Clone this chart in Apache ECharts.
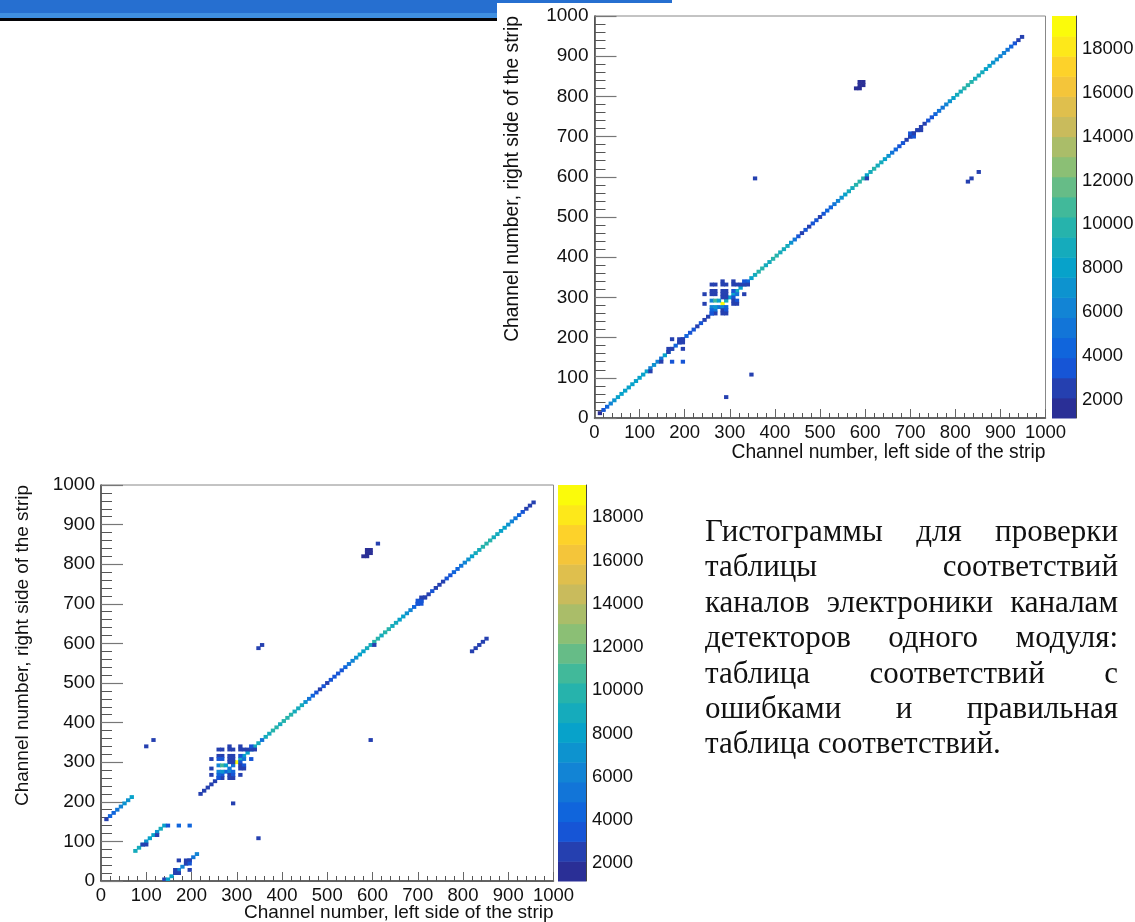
<!DOCTYPE html>
<html><head><meta charset="utf-8">
<style>html,body{margin:0;padding:0;background:#fff}#c{width:1135px;height:922px}</style>
<script src="https://cdn.jsdelivr.net/npm/echarts@6/dist/echarts.min.js"></script>
</head><body><div id="c"></div>
<script>
// ---------- data ----------
const binWidth = 8;
const colorTicks = [2000,4000,6000,8000,10000,12000,14000,16000,18000];
const colorMin = 1180, colorMax = 19490;
const palette = ['#2a2f96','#2540b0','#1655d6','#1065dc','#1275d8','#1284d5','#0d93cf','#07a2ca','#15abbc','#26b3ac','#41b99a','#66bc87','#8bbf75','#aabd69','#c9bb5c','#dfbf4d','#f4c53a','#fdd22a','#fde81a','#fbfb0a'];

const xTitle = 'Channel number, left side of the strip';
const yTitle = 'Channel number, right side of the strip';

// top panel: diagonal cell contents, channels 8, 16, ... 944
const topDiagonalStart = 8;
const topDiagonal = [
 2000,3200,4800,6500,7200,7800,8000,8300,8000,8200,
 8500,8100,8300,7600,6500,7000,6200,5500,7800,7500,
 5000,4500,4000,3800,4200,3600,3300,3000,3500,2800,
 3000,3800,5500,5000,18600,9000,8000,8500,9200,8500,
 9000,4500,8500,9000,9500,9600,9000,9400,9800,9500,
 9200,9400,9000,7000,5000,3500,3000,3400,2800,3200,
 3600,3000,3500,4200,4800,5600,6400,7000,7800,8600,
 9200,9500,9800,9600,8500,9400,9600,9000,8600,8000,
 7000,5200,4000,3500,3200,3000,3400,3000,2600,2800,
 3000,3500,3800,4400,5000,5600,6500,7500,8200,8800,
 9200,9500,9700,9600,9400,9200,8800,8300,7800,7400,
 7000,6500,6000,5400,4600,3800,3000,2400];
const topExtra = [
 [352,592,2500],[344,104,2600],[288,48,2400],[824,584,2300],[832,592,2600],[848,608,2400],
 [584,832,2000],[592,832,2000],[584,824,2000],[592,824,2000],[576,816,2000],[584,816,2000],
 [696,696,3000],[704,696,3400],[696,704,3400],[704,704,2800],[712,712,2400],[720,712,2200],
 [600,592,2800],[120,112,2500],[144,136,2600],[168,136,3200],[192,136,3200],[192,168,3000],
 [160,168,2600],[168,168,2400],[160,160,2500],[168,192,2800],[184,184,2400],[192,184,2600],[184,192,2300],[192,192,2800],
 [240,304,3000],[240,280,3000],[328,304,3000],
 [256,328,2600],[264,328,2600],[280,336,2600],[280,328,2400],[288,328,3000],[304,336,2800],[304,328,2400],[312,328,2800],[320,328,2800],[328,328,2600],[328,336,3600],[336,328,2400],
 [256,312,3000],[264,312,3000],[256,304,2600],[264,304,2800],[280,312,2600],[288,312,2800],[280,304,2600],[288,304,2800],
 [280,296,2400],[288,296,3000],[304,296,3500],[304,312,3800],[312,304,5000],
 [256,288,6500],[264,288,11000],[272,288,8500],[304,288,3000],[312,288,3200],[304,280,3000],[312,280,2800],
 [256,272,6000],[264,272,7000],[280,272,6500],[288,272,4000],
 [256,264,4000],[264,256,3000],[280,264,3000],[288,264,3500],[280,256,2800],[288,256,3000],[256,256,3500]];

// bottom panel: diagonal cell contents, channels 216, 224, ... 952
const bottomDiagonalStart = 216;
const bottomDiagonal = [
 2400,2600,2400,2800,3000,3200,3600,4000,5500,5000,
 18800,9000,8000,8500,9200,8800,9000,5000,8600,9200,
 9500,9700,9200,9600,9800,9500,9300,9400,9000,7400,
 5500,4000,3400,3000,3300,2800,3200,3600,3200,3800,
 4400,5200,6000,6800,7600,8400,9000,9400,9700,9800,
 8800,9500,9700,9300,8800,8300,7800,7200,6000,4800,
 3800,3200,3000,2800,3400,3000,2600,2800,3200,3600,
 4000,4600,5200,6000,7000,8000,8800,9300,9600,9800,
 9600,9400,9000,8400,7800,7000,6200,5200,4200,3400,
 3000,2800,2400];
// wrapped segments in the low channels
const bottomSegments = [
 [8,152,2400],[16,160,4200],[24,168,4800],[32,176,5600],[40,184,6200],[48,192,6800],[56,200,7200],[64,208,7800],
 [72,72,8800],[80,80,8600],[88,88,7800],[96,96,6800],[104,104,8200],[112,112,8000],[120,120,7000],[128,128,8600],[136,136,8400],
 [136,0,2400],[144,0,7800],[152,8,7600],[160,16,7000],[168,24,6600],[176,32,6200],[184,40,5600],[192,48,5000],[200,56,5400],[208,64,5800]];
const bottomExtra = [
 [88,88,2600],[96,88,2400],[120,112,3000],[144,136,3200],[168,136,4000],[192,136,4200],
 [160,16,2800],[168,16,2400],[160,24,2800],[168,48,3000],[184,48,2800],[192,48,2600],[184,40,2800],[192,40,3400],[192,24,3000],
 [608,848,2600],[584,832,2000],[592,832,2000],[584,824,2000],[592,824,2000],[576,816,2000],[584,816,2000],
 [344,584,2300],[352,592,2500],[816,576,2300],[824,584,2500],[832,592,2800],[840,600,2600],[848,608,3000],
 [112,352,2600],[96,336,2400],[592,352,2500],[288,192,2500],[344,104,2600],
 [600,592,2800],[696,696,3400],[704,696,3600],[696,704,3800],[704,704,3400],[704,712,2400],[712,712,2200],
 [240,304,3000],[240,280,3000],[240,264,3000],[328,304,3200],[304,264,3000],
 [256,328,2600],[264,328,2600],[280,336,2600],[280,328,2400],[288,328,3000],[304,336,2800],[304,328,2400],[312,328,2800],[320,328,2800],[328,328,2600],[328,336,3600],[336,328,2400],
 [256,312,3000],[264,312,3000],[256,304,3400],[264,304,3400],[280,312,2600],[288,312,2800],[280,304,2600],[288,304,2800],
 [280,296,2400],[288,296,3000],[304,296,3500],[304,312,3800],[312,304,5000],
 [256,288,6500],[264,288,10500],[272,288,8500],[304,288,3000],[312,288,3200],[304,280,3000],[312,280,2800],
 [256,272,6000],[264,272,7000],[280,272,6500],[288,272,4000],
 [256,264,4000],[264,256,3000],[280,264,3000],[288,264,3500],[280,256,2800],[288,256,3000],[256,256,3500]];

const noteLines = [
 'Гистограммы для проверки',
 'таблицы соответствий',
 'каналов электроники каналам',
 'детекторов одного модуля:',
 'таблица соответствий с',
 'ошибками и правильная',
 'таблица соответствий.'];

// ---------- helpers ----------
function diagonalCells(start, values){
  return values.map((v,i)=>[start+i*binWidth, start+i*binWidth, v]);
}
function colorFor(v){
  const k = Math.floor((v-colorMin)/(colorMax-colorMin)*palette.length);
  return palette[Math.max(0,Math.min(palette.length-1,k))];
}
const cellBleed = 0.35;
function renderCell(params, api){
  const x=api.value(0), y=api.value(1);
  const a=api.coord([x,y]), b=api.coord([x+binWidth,y+binWidth]);
  return {type:'rect',shape:{x:a[0]-cellBleed,y:b[1]-cellBleed,width:b[0]-a[0]+2*cellBleed,height:a[1]-b[1]+2*cellBleed},
          style:{fill:colorFor(api.value(2))}};
}
function renderBand(params, api){
  const a=api.coord([0,api.value(0)]), b=api.coord([1,api.value(1)]);
  return {type:'rect',shape:{x:a[0],y:b[1],width:b[0]-a[0],height:a[1]-b[1]+0.5},
          style:{fill:palette[api.value(2)]}};
}
const bandData = palette.map((c,i)=>{
  const s=(colorMax-colorMin)/palette.length;
  return [colorMin+i*s, colorMin+(i+1)*s, i];
});

const sans='"Liberation Sans", Arial, sans-serif';
const plain = v => String(v);
function xAxisFor(g, size, titleGap){
  return {gridIndex:g,type:'value',min:0,max:1000,interval:100,
    axisLine:{show:true,onZero:false,lineStyle:{color:'#444',width:1.5}},
    axisTick:{show:true,inside:true,length:9,lineStyle:{color:'#666',width:1}},
    minorTick:{show:true,splitNumber:5,length:5,lineStyle:{color:'#555',width:1}},
    splitLine:{show:false},minorSplitLine:{show:false},
    axisLabel:{color:'#111',fontFamily:sans,fontSize:18.5,margin:5,formatter:plain,showMinLabel:true,showMaxLabel:true},
    name:xTitle,nameLocation:'end',nameGap:0,nameMoveOverlap:false,
    nameTextStyle:{color:'#111',fontFamily:sans,fontSize:size,align:'right',verticalAlign:'top',padding:[titleGap,0,0,0]}};
}
function yAxisFor(g, size, titleGap){
  return {gridIndex:g,type:'value',min:0,max:1000,interval:100,
    axisLine:{show:true,onZero:false,lineStyle:{color:'#444',width:1.5}},
    axisTick:{show:true,inside:true,length:22,lineStyle:{color:'#777',width:1.2}},
    minorTick:{show:true,splitNumber:5,length:11,lineStyle:{color:'#555',width:1}},
    splitLine:{show:false},minorSplitLine:{show:false},
    axisLabel:{color:'#111',fontFamily:sans,fontSize:19,margin:6,formatter:plain,padding:[4,0,0,0],showMinLabel:true,showMaxLabel:true},
    name:yTitle,nameLocation:'end',nameGap:0,nameRotate:90,nameMoveOverlap:false,
    nameTextStyle:{color:'#111',fontFamily:sans,fontSize:size,align:'right',verticalAlign:'bottom',padding:[0,0,titleGap,0]}};
}
function barX(g){return {gridIndex:g,type:'value',min:0,max:1,show:false};}
function barY(g){
  return {gridIndex:g,type:'value',position:'right',min:colorMin,max:colorMax,
    axisLine:{show:true,onZero:false,lineStyle:{color:'#444',width:1}},
    axisTick:{show:true,inside:true,length:23,customValues:colorTicks,lineStyle:{color:'rgba(30,30,30,.75)',width:1.2}},
    minorTick:{show:false},splitLine:{show:false},
    axisLabel:{color:'#111',fontFamily:sans,fontSize:18.5,margin:6,formatter:plain,customValues:colorTicks,showMinLabel:true,showMaxLabel:true}};
}
function cellSeries(ax, cells){
  return {type:'custom',xAxisIndex:ax,yAxisIndex:ax,coordinateSystem:'cartesian2d',clip:true,silent:true,
    data:cells,encode:{x:0,y:1},renderItem:renderCell,animation:false};
}
function bandSeries(ax){
  return {type:'custom',xAxisIndex:ax,yAxisIndex:ax,coordinateSystem:'cartesian2d',silent:true,
    data:bandData,encode:{y:[0,1]},renderItem:renderBand,animation:false,z:1};
}

// justified note, one text element per word
const noteFont = '"Liberation Serif", "Times New Roman", serif';
const noteSize = 31, noteLeft = 705, noteRight = 1118, noteTop = 536, noteStep = 35.4;
const measure = document.createElement('canvas').getContext('2d');
measure.font = noteSize+'px "Liberation Serif"';
const noteGraphics = [];
noteLines.forEach((line,li)=>{
  const words=line.split(' ');
  const widths=words.map(w=>measure.measureText(w).width);
  const total=widths.reduce((a,b)=>a+b,0);
  const last = li===noteLines.length-1;
  const gap = last ? noteSize*0.25 : (noteRight-noteLeft-total)/(words.length-1);
  let x=noteLeft;
  words.forEach((w,wi)=>{
    noteGraphics.push({type:'text',left:x,top:noteTop+li*noteStep-noteSize*0.6,silent:true,
      style:{text:w,font:noteSize+'px '+noteFont,fill:'#111'}});
    x+=widths[wi]+gap;
  });
});

const chart = echarts.init(document.getElementById('c'));
const noShrink = {outerBoundsMode:'none'};
chart.setOption({
  backgroundColor:'#fff',animation:false,
  grid:[
    {left:594.5,top:16,width:451,height:402,show:true,borderColor:'#888',borderWidth:1,backgroundColor:'#fff',...noShrink},
    {left:1052,top:16,width:24,height:402,show:false,...noShrink},
    {left:101,top:485,width:452.5,height:396,show:true,borderColor:'#888',borderWidth:1,backgroundColor:'#fff',...noShrink},
    {left:558,top:485,width:28,height:396,show:false,...noShrink}
  ],
  xAxis:[xAxisFor(0,19.3,25),barX(1),xAxisFor(2,19,22),barX(3)],
  yAxis:[yAxisFor(0,19.3,72),barY(1),yAxisFor(2,19,69),barY(3)],
  series:[
    cellSeries(0,diagonalCells(topDiagonalStart,topDiagonal).concat(topExtra)),
    bandSeries(1),
    cellSeries(2,diagonalCells(bottomDiagonalStart,bottomDiagonal).concat(bottomSegments,bottomExtra)),
    bandSeries(3)
  ],
  graphic:[
    {type:'rect',left:0,top:0,shape:{width:672,height:3},style:{fill:'#266fd0'},silent:true},
    {type:'rect',left:0,top:0,shape:{width:497,height:13},style:{fill:'#266fd0'},silent:true},
    {type:'rect',left:0,top:13,shape:{width:497,height:5},style:{fill:'#3f8fe0'},silent:true},
    {type:'rect',left:0,top:18,shape:{width:497,height:3},style:{fill:'#050508'},silent:true}
  ].concat(noteGraphics)
});
</script></body></html>
